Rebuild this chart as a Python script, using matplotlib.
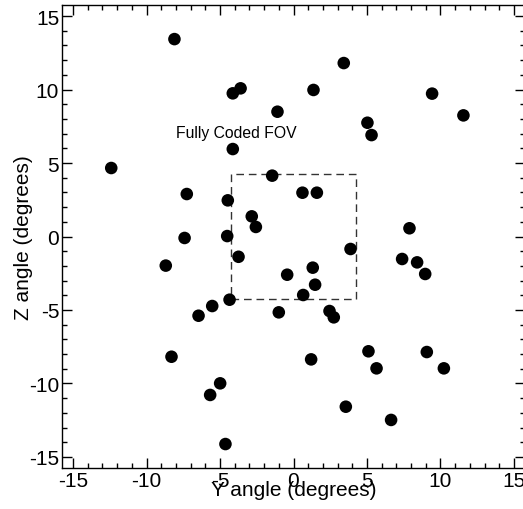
import matplotlib
matplotlib.use('Agg')
import matplotlib.pyplot as plt
from matplotlib.ticker import MultipleLocator

plt.rcParams['font.family'] = ['Liberation Sans', 'DejaVu Sans']
plt.rcParams['axes.unicode_minus'] = False

# source positions (degrees)
y_ang = [-8.1, -4.13, -3.6, 3.42, 1.36, -1.09, 9.43, 11.56, 5.03, 5.31,
         -4.13, -12.4, -1.45, -7.26, -4.47, 0.61, 1.59, -2.84, -2.56, -7.41,
         -4.51, -3.74, 3.88, 7.89, -8.69, 7.39, 8.41, 8.96, -0.43, 1.31,
         1.47, 0.66, -4.35, -5.53, -6.46, -1.0, 2.45, 2.74, -8.3, 5.1,
         9.07, 1.2, 5.65, 10.23, -4.99, -5.67, 3.56, 6.64, -4.63]
z_ang = [13.43, 9.74, 10.08, 11.8, 9.97, 8.49, 9.72, 8.24, 7.74, 6.9,
         5.95, 4.66, 4.14, 2.89, 2.46, 2.98, 2.98, 1.37, 0.65, -0.1,
         0.03, -1.38, -0.85, 0.56, -1.98, -1.53, -1.76, -2.55, -2.6, -2.12,
         -3.28, -3.98, -4.3, -4.73, -5.39, -5.16, -5.07, -5.5, -8.18, -7.81,
         -7.86, -8.36, -8.97, -8.97, -9.99, -10.78, -11.58, -12.48, -14.12]

# fully coded field of view (half width, degrees)
fov_half = 4.25

fig = plt.figure(figsize=(5.23, 5.10), dpi=100)
ax = fig.add_axes([62/523, 41/510, 463/523, 463/510])

ax.scatter(y_ang, z_ang, s=82, c='black', edgecolors='none', zorder=3)

box_x = [-fov_half, fov_half, fov_half, -fov_half, -fov_half]
box_y = [-fov_half, -fov_half, fov_half, fov_half, -fov_half]
ax.plot(box_x, box_y, color='#333333', lw=1.0, dashes=(5.5, 3.5))

ax.text(-7.98, 6.77, 'Fully Coded FOV', fontsize=11.3, ha='left', va='baseline')

ax.set_xlim(-15.75, 15.75)
ax.set_ylim(-15.75, 15.75)
ax.xaxis.set_major_locator(MultipleLocator(5))
ax.xaxis.set_minor_locator(MultipleLocator(1))
ax.yaxis.set_major_locator(MultipleLocator(5))
ax.yaxis.set_minor_locator(MultipleLocator(1))
ax.tick_params(which='both', direction='in', top=True, right=True, width=1.0,
               labelsize=15, pad=2)
ax.tick_params(which='major', length=7.2)
ax.tick_params(which='minor', length=3.6)
for sp in ax.spines.values():
    sp.set_linewidth(1.0)

ax.set_xlabel('Y angle (degrees)', fontsize=15)
ax.set_ylabel('Z angle (degrees)', fontsize=15)
ax.xaxis.set_label_coords(0.5, -0.025)
ax.yaxis.set_label_coords(-0.062, 0.5)

fig.savefig('out.png', dpi=100)
